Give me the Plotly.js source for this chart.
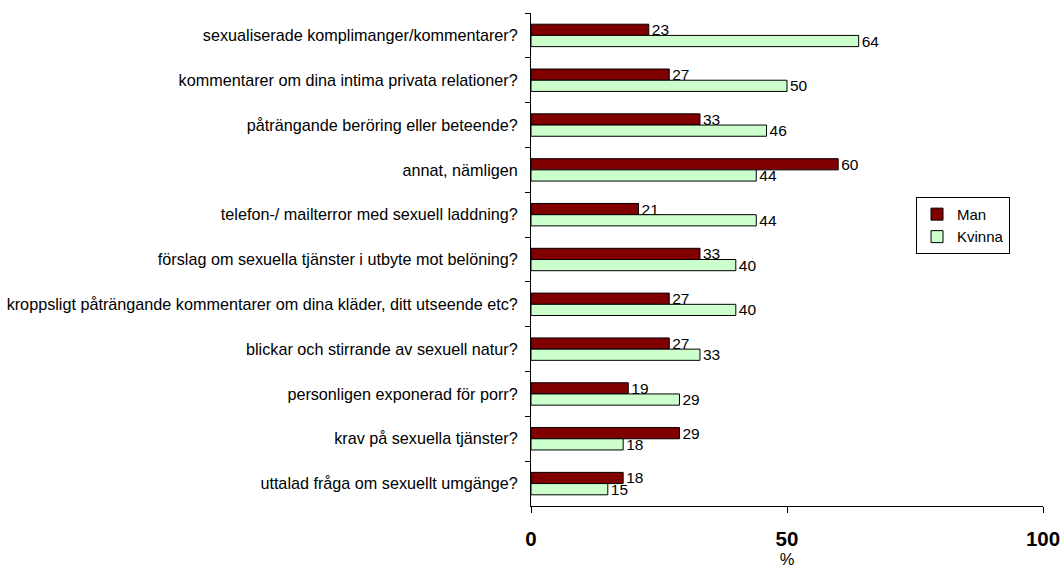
<!DOCTYPE html>
<html>
<head>
<meta charset="utf-8">
<script src="https://cdn.plot.ly/plotly-3.0.1.min.js"></script>
<style>html,body{margin:0;padding:0;background:#fff;}#chart{width:1064px;height:569px;}</style>
</head>
<body>
<div id="chart"></div>
<script>
const categories = [
  "sexualiserade komplimanger/kommentarer?",
  "kommentarer om dina intima privata relationer?",
  "påträngande beröring eller beteende?",
  "annat, nämligen",
  "telefon-/ mailterror med sexuell laddning?",
  "förslag om sexuella tjänster i utbyte mot belöning?",
  "kroppsligt påträngande kommentarer om dina kläder, ditt utseende etc?",
  "blickar och stirrande av sexuell natur?",
  "personligen exponerad för porr?",
  "krav på sexuella tjänster?",
  "uttalad fråga om sexuellt umgänge?"
];
const manValues = [23, 27, 33, 60, 21, 33, 27, 27, 19, 29, 18];
const kvinnaValues = [64, 50, 46, 44, 44, 40, 40, 33, 29, 18, 15];
const xTicks = [0, 50, 100];

const font = "Liberation Sans, Arial, sans-serif";
const traces = [
  {type: "bar", orientation: "h", name: "Man", y: categories, x: manValues,
   marker: {color: "#800000", line: {color: "#000", width: 1}},
   text: manValues.map(String), textposition: "outside", cliponaxis: false,
   constraintext: "none",
   textfont: {family: font, size: 15.5, color: "#000"}},
  {type: "bar", orientation: "h", name: "Kvinna", y: categories, x: kvinnaValues,
   marker: {color: "#CCFFCC", line: {color: "#000", width: 1}},
   text: kvinnaValues.map(String), textposition: "outside", cliponaxis: false,
   constraintext: "none",
   textfont: {family: font, size: 15.5, color: "#000"}}
];
const layout = {
  width: 1064, height: 569,
  margin: {l: 531, r: 21, t: 13, b: 63},
  paper_bgcolor: "#fff", plot_bgcolor: "#fff",
  font: {family: font, size: 15, color: "#000"},
  barmode: "group", bargap: 0.5, bargroupgap: 0,
  showlegend: true,
  legend: {x: 0.752, y: 0.627, xanchor: "left", yanchor: "top",
           bordercolor: "#000", borderwidth: 1, bgcolor: "#fff",
           font: {family: font, size: 15, color: "#000"},
           itemwidth: 30, tracegroupgap: 0},
  xaxis: {range: [0, 100], tickvals: xTicks, ticktext: xTicks.map(String),
          showgrid: false, zeroline: false, showline: true, linecolor: "#000", linewidth: 1,
          ticks: "outside", ticklen: 6, tickcolor: "#000",
          tickfont: {family: font, size: 20.5, color: "#000", weight: "bold"},
          ticklabelstandoff: 8,
          title: {text: "%", font: {family: font, size: 16.5, color: "#000"}, standoff: 2}},
  yaxis: {autorange: "reversed", type: "category", showgrid: false, showline: true,
          linecolor: "#000", linewidth: 1, ticks: "outside", ticklen: 5, tickcolor: "#000",
          tickson: "boundaries", ticklabelstandoff: 9,
          tickfont: {family: font, size: 16.2, color: "#000"}}
};
Plotly.newPlot("chart", traces, layout, {displayModeBar: false, responsive: false});
</script>
</body>
</html>
